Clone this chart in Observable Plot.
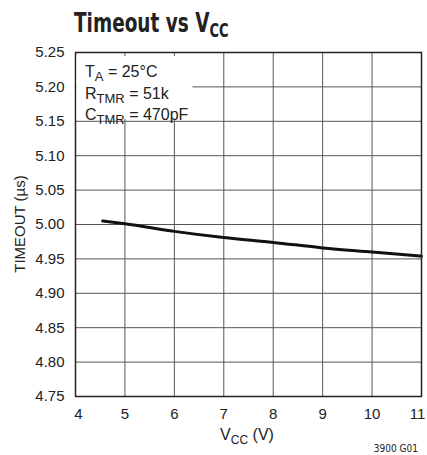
<!DOCTYPE html>
<html>
<head>
<meta charset="utf-8">
<script src="https://cdn.jsdelivr.net/npm/d3@7"></script>
<script src="https://cdn.jsdelivr.net/npm/@observablehq/plot@0.6"></script>
<style>
  html, body { margin: 0; padding: 0; background: #fff; }
  #chart svg { display: block; }
</style>
</head>
<body>
<div id="chart"></div>
<script>
const vcc = [4.55, 5, 6, 7, 8, 9, 10, 11];
const timeout = [5.005, 5.001, 4.990, 4.981, 4.974, 4.966, 4.960, 4.954];
const xTicks = [4, 5, 6, 7, 8, 9, 10, 11];
const yTicks = [4.75, 4.80, 4.85, 4.90, 4.95, 5.00, 5.05, 5.10, 5.15, 5.20, 5.25];
const titleMain = "Timeout vs V";
const titleSub = "CC";
const xLabelMain = "V";
const xLabelSub = "CC";
const xLabelRest = " (V)";
const yLabel = "TIMEOUT (µs)";
const notes = [
  {main: "T", sub: "A", rest: " = 25°C"},
  {main: "R", sub: "TMR", rest: " = 51k"},
  {main: "C", sub: "TMR", rest: " = 470pF"}
];
const figId = "3900 G01";

const data = vcc.map((v, i) => ({v, t: timeout[i]}));
const font = '"Liberation Sans", Arial, sans-serif';
const narrow = '"Liberation Sans Narrow", "DejaVu Sans Condensed", "Liberation Sans", sans-serif';
const xFirst = xTicks.slice(0, 1);
const xMid = xTicks.slice(1, -1);
const xLast = xTicks.slice(-1);
const xAxisOpts = {tickSize: 0, tickPadding: 12, label: null, fontSize: 15, tickFormat: d3.format("d")};

const svg = Plot.plot({
  width: 427,
  height: 455,
  marginLeft: 75,
  marginRight: 6,
  marginTop: 52,
  marginBottom: 59,
  style: {fontFamily: font, fontSize: "15px", color: "#222", background: "#fff"},
  x: {domain: [4, 11]},
  y: {domain: [4.75, 5.25]},
  marks: [
    Plot.gridX(xTicks, {stroke: "#555", strokeOpacity: 1, strokeWidth: 1}),
    Plot.gridY(yTicks, {stroke: "#555", strokeOpacity: 1, strokeWidth: 1}),
    Plot.line(data, {x: "v", y: "t", stroke: "#111", strokeWidth: 3, curve: "monotone-x"}),
    Plot.frame({stroke: "#222", strokeWidth: 1.5}),
    Plot.axisX({...xAxisOpts, ticks: xFirst, dx: 3}),
    Plot.axisX({...xAxisOpts, ticks: xMid}),
    Plot.axisX({...xAxisOpts, ticks: xLast, dx: -4}),
    Plot.axisY({ticks: yTicks, tickSize: 0, tickPadding: 11, label: null, tickFormat: d3.format(".2f"), fontSize: 15})
  ]
});
document.getElementById("chart").appendChild(svg);

const s = d3.select(svg);
// annotation box
s.append("rect").attr("x", 76.5).attr("y", 56).attr("width", 116).attr("height", 63).attr("fill", "#fff");
notes.forEach((n, i) => {
  const t = s.append("text").attr("x", 85).attr("y", 77 + i * 21.5).attr("text-anchor", "start")
    .attr("font-family", font).attr("font-size", 16).attr("fill", "#222");
  t.append("tspan").text(n.main);
  t.append("tspan").attr("font-size", 13).attr("dy", 4).text(n.sub);
  t.append("tspan").attr("dy", -4).text(n.rest);
});
// title
const tt = s.append("text").attr("transform", "translate(74,32) scale(0.76,1)").attr("text-anchor", "start")
  .attr("font-family", narrow).attr("font-weight", "bold").attr("font-size", 27).attr("fill", "#222");
tt.append("tspan").text(titleMain);
tt.append("tspan").attr("font-size", 19).attr("dy", 5).text(titleSub);
// x label
const xl = s.append("text").attr("x", 247).attr("y", 440).attr("text-anchor", "middle")
  .attr("font-family", font).attr("font-size", 16).attr("fill", "#222");
xl.append("tspan").text(xLabelMain);
xl.append("tspan").attr("font-size", 12).attr("dy", 4).text(xLabelSub);
xl.append("tspan").attr("dy", -4).text(xLabelRest);
// y label
s.append("text").attr("transform", "translate(25,224) rotate(-90)").attr("text-anchor", "middle")
  .attr("font-family", font).attr("font-size", 15).attr("fill", "#222").text(yLabel);
// figure id
s.append("text").attr("x", 418).attr("y", 452).attr("text-anchor", "end")
  .attr("font-family", narrow).attr("font-size", 10).attr("fill", "#222").text(figId);
</script>
</body>
</html>
